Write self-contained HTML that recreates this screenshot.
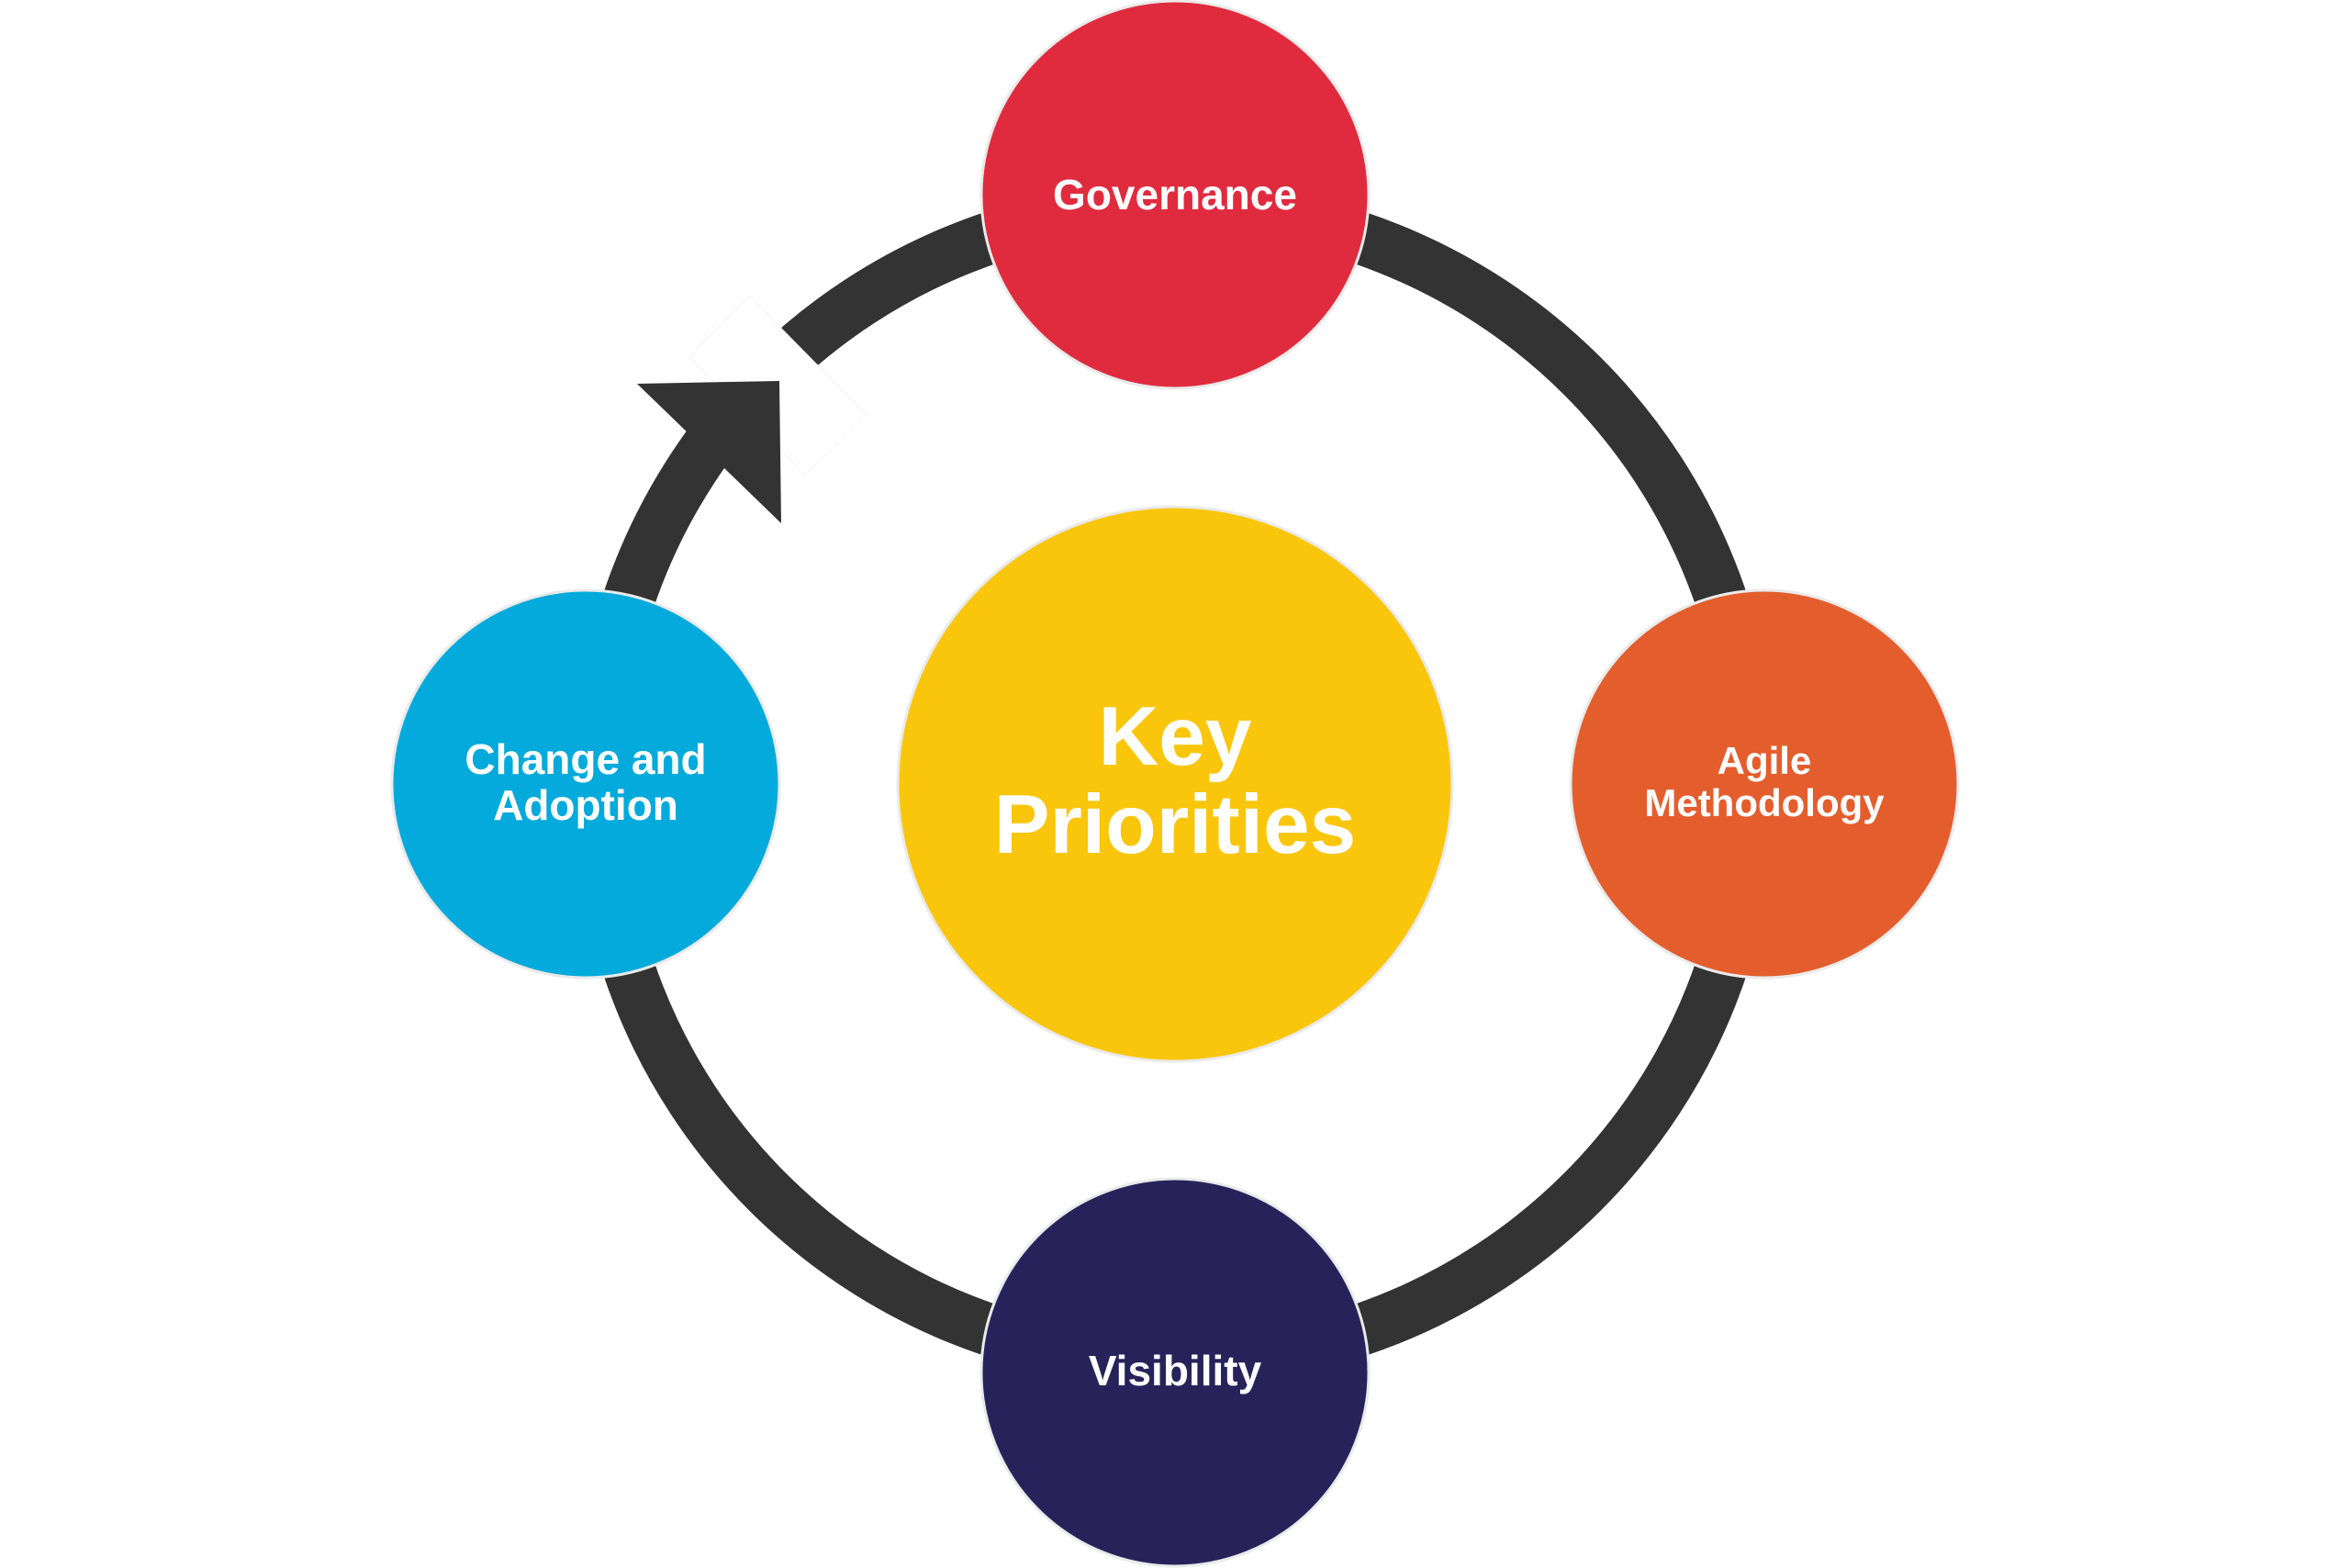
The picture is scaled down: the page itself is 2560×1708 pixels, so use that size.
<!DOCTYPE html>
<html><head><style>html,body{margin:0;padding:0;background:#fff}svg{display:block}</style></head>
<body>
<svg width="2560" height="1708" viewBox="0 0 2560 1708" xmlns="http://www.w3.org/2000/svg" font-family="Liberation Sans, sans-serif" font-weight="bold" fill="#fff">
<rect width="2560" height="1708" fill="#fff"/>
<circle cx="1280" cy="854" r="628" fill="none" stroke="#333" stroke-width="57"/>
<polygon points="816,322 944,452 877,518 751,389" fill="#fff" stroke="#f4f4f4" stroke-width="1"/>
<polygon points="694,418 849,415 851,570" fill="#333"/>
<g stroke="#eaeaea" stroke-width="3">
<circle cx="1280" cy="212" r="211" fill="#e02b3f"/>
<circle cx="1280" cy="1495" r="211" fill="#27235a"/>
<circle cx="638" cy="854" r="211" fill="#03aadb"/>
<circle cx="1922" cy="854" r="211" fill="#e45d2d"/>
<circle cx="1280" cy="854" r="302" fill="#f9c60c"/>
</g>
<g text-anchor="middle" fill="#fff">
<text x="1280" y="228" font-size="46">Governance</text>
<text x="1280" y="1509" font-size="46">Visibility</text>
<text x="638" y="843" font-size="46">Change and</text>
<text x="638" y="893" font-size="46">Adoption</text>
<text x="1922" y="843" font-size="42">Agile</text>
<text x="1922" y="889" font-size="42">Methodology</text>
<text x="1280" y="833" font-size="91">Key</text>
<text x="1280" y="929" font-size="91">Priorities</text>
</g>
</svg>
</body></html>
